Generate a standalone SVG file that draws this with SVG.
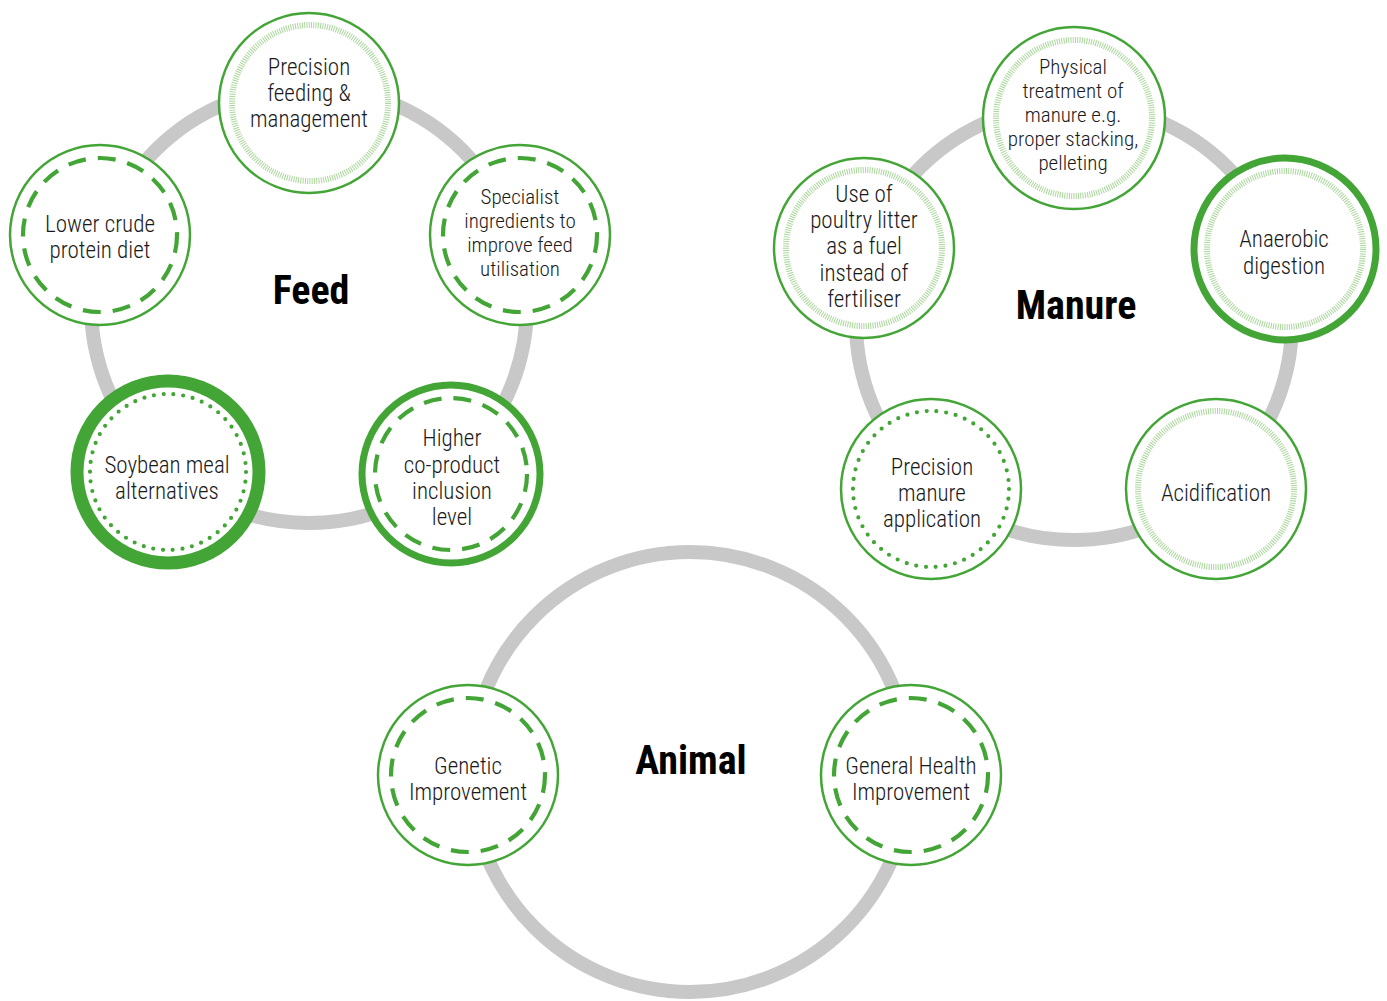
<svg xmlns="http://www.w3.org/2000/svg" width="1387" height="1001" viewBox="0 0 1387 1001">
<style>
.ring{fill:none;stroke:#c8c8c8;stroke-width:14}
.outer{fill:#fff;stroke:#43a536;stroke-width:2.5}
.outer.bold{stroke-width:7}
.outer.heavy{stroke-width:13}
.hatch{fill:none;stroke:#a9d69a;stroke-width:6;stroke-dasharray:1 1.3}
.dash{fill:none;stroke:#43a536;stroke-width:4.2;stroke-dasharray:18 12}
.dot{fill:none;stroke:#43a536;stroke-width:4.2;stroke-linecap:round;stroke-dasharray:0 9.8}
text{font-family:"Roboto Condensed","Liberation Sans Narrow","DejaVu Sans Condensed",Roboto,sans-serif;fill:#1a1a1a;text-anchor:middle}
.t{font-size:23px;font-weight:300}
.s{font-size:21px;font-weight:300}
.title{font-size:40px;font-weight:bold;fill:#000}
</style>
<g id="connectors">
<circle class="ring" cx="309" cy="305" r="218"/>
<circle class="ring" cx="1074" cy="322" r="218"/>
<circle class="ring" cx="690" cy="772" r="220"/>
</g>
<g id="feed-title"><text class="title" x="311" y="304">Feed</text></g>
<g id="manure-title"><text class="title" x="1076" y="319">Manure</text></g>
<g id="animal-title"><text class="title" x="691" y="774">Animal</text></g>

<g id="precision-feeding">
<circle class="outer" cx="309" cy="103" r="90"/>
<circle class="hatch" cx="310" cy="103" r="78"/>
<text class="t" x="309" y="75">Precision</text>
<text class="t" x="309" y="101">feeding &amp;</text>
<text class="t" x="309" y="127">management</text>
</g>
<g id="lower-crude">
<circle class="outer" cx="100" cy="235" r="90"/>
<circle class="dash" cx="100" cy="235" r="77"/>
<text class="t" x="100" y="232">Lower crude</text>
<text class="t" x="100" y="258">protein diet</text>
</g>
<g id="specialist">
<circle class="outer" cx="520" cy="235" r="90"/>
<circle class="dash" cx="520" cy="235" r="77"/>
<text class="s" x="520" y="204">Specialist</text>
<text class="s" x="520" y="228">ingredients to</text>
<text class="s" x="520" y="252">improve feed</text>
<text class="s" x="520" y="276">utilisation</text>
</g>
<g id="soybean">
<circle class="outer heavy" cx="168" cy="472" r="91"/>
<circle class="dot" cx="168" cy="472" r="78"/>
<text class="t" x="167" y="473">Soybean meal</text>
<text class="t" x="167" y="499">alternatives</text>
</g>
<g id="higher-coproduct">
<circle class="outer bold" cx="451" cy="474" r="89"/>
<circle class="dash" cx="451" cy="474" r="76"/>
<text class="t" x="452" y="446">Higher</text>
<text class="t" x="452" y="473">co-product</text>
<text class="t" x="452" y="499">inclusion</text>
<text class="t" x="452" y="525">level</text>
</g>

<g id="physical-treatment">
<circle class="outer" cx="1074" cy="118" r="91"/>
<circle class="hatch" cx="1074" cy="118" r="78"/>
<text class="s" x="1073" y="74">Physical</text>
<text class="s" x="1073" y="98">treatment of</text>
<text class="s" x="1073" y="122">manure e.g.</text>
<text class="s" x="1073" y="146">proper stacking,</text>
<text class="s" x="1073" y="170">pelleting</text>
</g>
<g id="poultry-litter">
<circle class="outer" cx="864" cy="248" r="90"/>
<circle class="hatch" cx="864" cy="248" r="78"/>
<text class="t" x="864" y="202">Use of</text>
<text class="t" x="864" y="228">poultry litter</text>
<text class="t" x="864" y="254">as a fuel</text>
<text class="t" x="864" y="281">instead of</text>
<text class="t" x="864" y="307">fertiliser</text>
</g>
<g id="anaerobic">
<circle class="outer bold" cx="1285" cy="249" r="91"/>
<circle class="hatch" cx="1285" cy="249" r="78"/>
<text class="t" x="1284" y="247">Anaerobic</text>
<text class="t" x="1284" y="274">digestion</text>
</g>
<g id="precision-manure">
<circle class="outer" cx="931" cy="489" r="90"/>
<circle class="dot" cx="931" cy="489" r="78"/>
<text class="t" x="932" y="475">Precision</text>
<text class="t" x="932" y="501">manure</text>
<text class="t" x="932" y="527">application</text>
</g>
<g id="acidification">
<circle class="outer" cx="1216" cy="489" r="90"/>
<circle class="hatch" cx="1216" cy="489" r="78"/>
<text class="t" x="1216" y="501">Acidification</text>
</g>

<g id="genetic">
<circle class="outer" cx="468" cy="775" r="90"/>
<circle class="dash" cx="468" cy="775" r="77"/>
<text class="t" x="468" y="774">Genetic</text>
<text class="t" x="468" y="800">Improvement</text>
</g>
<g id="general-health">
<circle class="outer" cx="911" cy="775" r="90"/>
<circle class="dash" cx="911" cy="775" r="77"/>
<text class="t" x="911" y="774">General Health</text>
<text class="t" x="911" y="800">Improvement</text>
</g>
</svg>
